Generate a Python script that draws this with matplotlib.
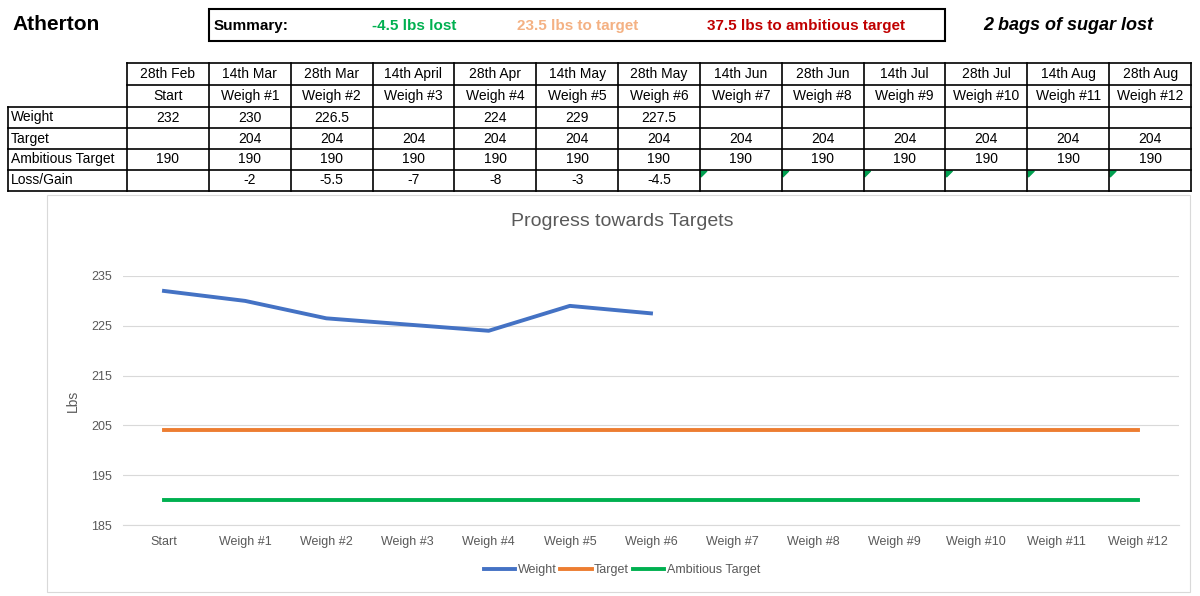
import matplotlib
matplotlib.use("Agg")
import matplotlib.pyplot as plt
import numpy as np
from matplotlib.patches import Polygon, Rectangle

plt.rcParams['font.family'] = ['Liberation Sans', 'DejaVu Sans']

dates = ["28th Feb", "14th Mar", "28th Mar", "14th April", "28th Apr", "14th May", "28th May",
         "14th Jun", "28th Jun", "14th Jul", "28th Jul", "14th Aug", "28th Aug"]
labels = ["Start"] + [f"Weigh #{i}" for i in range(1, 13)]
weight = [232, 230, 226.5, None, 224, 229, 227.5, None, None, None, None, None, None]
target = [None] + [204] * 12
target_line = [204] * 13
ambitious = [190] * 13
loss = [None, -2, -5.5, -7, -8, -3, -4.5, None, None, None, None, None, None]

W, H = 1200, 596
fig = plt.figure(figsize=(12, 5.96), dpi=100)

def fx(x): return x / W
def fy(y): return 1 - y / H

def hline(x0, x1, y, lw=1.2, c='black'):
    fig.add_artist(plt.Line2D([fx(x0), fx(x1)], [fy(y), fy(y)], color=c, lw=lw))
def vline(x, y0, y1, lw=1.2, c='black'):
    fig.add_artist(plt.Line2D([fx(x), fx(x)], [fy(y0), fy(y1)], color=c, lw=lw))
def txt(x, y, s, **kw):
    fig.text(fx(x), fy(y), s, va='center', **kw)

# Header
txt(12, 25, "Atherton", fontsize=15, fontweight='bold')
fig.add_artist(Rectangle((fx(209), fy(41)), fx(945) - fx(209), fy(9) - fy(41),
                         fill=False, lw=1.5, ec='black', transform=fig.transFigure))
txt(214, 26, "Summary:", fontsize=11, fontweight='bold')
txt(414, 26, "-4.5 lbs lost", fontsize=11, fontweight='bold', color='#00b050', ha='center')
txt(578, 26, "23.5 lbs to target", fontsize=11, fontweight='bold', color='#f4b183', ha='center')
txt(806, 26, "37.5 lbs to ambitious target", fontsize=11, fontweight='bold', color='#c00000', ha='center')
txt(1068, 26, "2 bags of sugar lost", fontsize=13, fontweight='bold', style='italic', ha='center')

# Table
cols = list(np.linspace(127, 1191, 14))
rows = [63, 85, 107, 128, 149, 170, 191]
for i, y in enumerate(rows):
    hline(8 if i >= 2 else 127, 1191, y)
for x in cols:
    vline(x, 63, 191)
vline(8, 107, 191)
rowlabels = ["Weight", "Target", "Ambitious Target", "Loss/Gain"]
rowdata = [weight, target, ambitious, loss]
def fmt(v):
    if v is None: return ""
    return f"{v:g}"
for j in range(13):
    cx = (cols[j] + cols[j + 1]) / 2
    txt(cx, 74, dates[j], fontsize=10, ha='center')
    txt(cx, 96, labels[j], fontsize=10, ha='center')
for r in range(4):
    cy = (rows[r + 2] + rows[r + 3]) / 2
    txt(11, cy, rowlabels[r], fontsize=10)
    for j in range(13):
        cx = (cols[j] + cols[j + 1]) / 2
        txt(cx, cy, fmt(rowdata[r][j]), fontsize=10, ha='center')
for j in range(7, 13):
    x0 = cols[j] + 1; y0 = 171
    fig.add_artist(Polygon([(fx(x0), fy(y0)), (fx(x0 + 6), fy(y0)), (fx(x0), fy(y0 + 6))],
                           closed=True, color='#00a050', transform=fig.transFigure))

# Chart frame
fig.add_artist(Rectangle((fx(47), fy(592)), fx(1190) - fx(47), fy(195) - fy(592),
                         fill=False, lw=0.8, ec='#d9d9d9', transform=fig.transFigure))
ax = fig.add_axes([fx(123.4), fy(525), fx(1178.6) - fx(123.4), fy(276) - fy(525)])
x = np.arange(13)
wx = [i for i, v in enumerate(weight) if v is not None]
wy = [v for v in weight if v is not None]
ax.plot(wx, wy, color='#4472c4', lw=2.8, label='Weight')
ax.plot(x, target_line, color='#ed7d31', lw=2.8, label='Target')
ax.plot(x, ambitious, color='#00b050', lw=2.8, label='Ambitious Target')
ax.set_xlim(-0.5, 12.5)
ax.set_ylim(185, 235)
ax.set_yticks(range(185, 236, 10))
ax.set_xticks(x)
ax.set_xticklabels(labels)
ax.tick_params(length=0, labelsize=9, colors='#595959', pad=8)
ax.grid(axis='y', color='#d9d9d9', lw=0.8)
ax.set_axisbelow(True)
for s in ['top', 'right', 'left']:
    ax.spines[s].set_visible(False)
ax.spines['bottom'].set_color('#d9d9d9')
ax.set_ylabel("Lbs", fontsize=10, color='#595959', labelpad=8)
txt(622, 221, "Progress towards Targets", fontsize=14, color='#595959', ha='center')
fig.legend(loc='center', bbox_to_anchor=(fx(622), fy(570)), ncol=3, frameon=False,
           fontsize=9, labelcolor='#595959', handlelength=2.5, columnspacing=0.3, handletextpad=0.2)

fig.savefig("out.png", dpi=100)
